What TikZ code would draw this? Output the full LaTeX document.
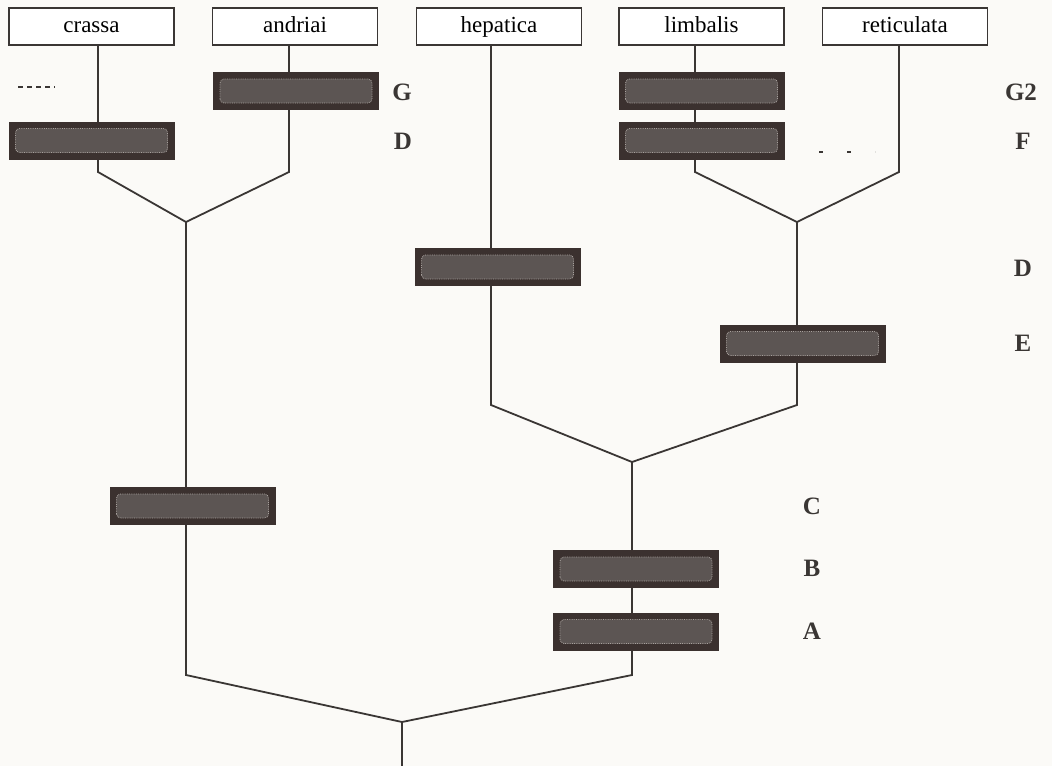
\documentclass[tikz,border=0pt]{standalone}
\usepackage{fontspec}
\setmainfont{Liberation Serif}
\usetikzlibrary{calc}
\definecolor{bgc}{HTML}{FBFAF7}
\definecolor{linec}{HTML}{3A3634}
\definecolor{bardark}{HTML}{3B312F}
\definecolor{barmid}{HTML}{5C5553}
\definecolor{barlight}{HTML}{A8A29E}
\begin{document}
\begin{tikzpicture}[x=1pt,y=-1pt,
  taxon/.style={draw=linec, line width=1.6pt, fill=white, rectangle, minimum width=165pt, minimum height=37pt, inner sep=0pt, text height=15pt, text depth=4pt, font=\fontsize{23}{25}\selectfont},
  bar/.style={rectangle, fill=bardark, minimum width=166pt, minimum height=38pt, inner sep=0pt,
    path picture={\fill[barmid, rounded corners=4pt] ($(path picture bounding box.south west)+(7pt,7pt)$) rectangle ($(path picture bounding box.north east)+(-7pt,-7pt)$);
      \draw[barlight, densely dotted, line width=0.8pt, rounded corners=4pt] ($(path picture bounding box.south west)+(7pt,7pt)$) rectangle ($(path picture bounding box.north east)+(-7pt,-7pt)$);}},
  lvl/.style={font=\bfseries\fontsize{25}{27}\selectfont, text=linec},
  link/.style={draw=linec, line width=1.8pt, line join=miter}]
\fill[bgc] (0,0) rectangle (1052,766);
\useasboundingbox (0,0) rectangle (1052,766);

% taxa
\node[taxon] (crassa) at (91.5,26.5) {crassa};
\node[taxon] (andriai) at (295,26.5) {andriai};
\node[taxon] (hepatica) at (499,26.5) {hepatica};
\node[taxon] (limbalis) at (701.5,26.5) {limbalis};
\node[taxon] (reticulata) at (905,26.5) {reticulata};

% junctions
\coordinate (b1) at (98,172);
\coordinate (b2) at (289,172);
\coordinate (j1) at (186,222);
\coordinate (b3) at (695,172);
\coordinate (b4) at (899,172);
\coordinate (j2) at (797,222);
\coordinate (b5) at (491,405);
\coordinate (b6) at (797,405);
\coordinate (j3) at (632,462);
\coordinate (b7) at (186,675);
\coordinate (b8) at (632,675);
\coordinate (j4) at (402,722);
\coordinate (root) at (402,766);

% connectors
\draw[link] (crassa.south -| b1) -- (b1) -- (j1);
\draw[link] (andriai.south -| b2) -- (b2) -- (j1);
\draw[link] (limbalis.south -| b3) -- (b3) -- (j2);
\draw[link] (reticulata.south -| b4) -- (b4) -- (j2);
\draw[link] (hepatica.south -| b5) -- (b5) -- (j3);
\draw[link] (j2) -- (b6) -- (j3);
\draw[link] (j1) -- (b7) -- (j4);
\draw[link] (j3) -- (b8) -- (j4);
\draw[link] (j4) -- (root);

% character bars
\node[bar] (barG) at (296,91) {};
\node[bar] (barD1) at (91.5,140.5) {};
\node[bar] (barG2) at (701.5,91) {};
\node[bar] (barF) at (701.5,140.5) {};
\node[bar] (barD2) at (497.5,267) {};
\node[bar] (barE) at (802.5,343.5) {};
\node[bar] (barC) at (192.5,506) {};
\node[bar] (barB) at (636,569) {};
\node[bar] (barA) at (636,631.5) {};

% faint marks
\draw[linec, line width=1.2pt, dash pattern=on 5pt off 4pt] (18,87) -- (55,87);
\draw[linec, line width=1.2pt, dash pattern=on 4pt off 24pt] (819,152) -- (875,152);

% level labels
\node[lvl] (lG) at (402,92) {G};
\node[lvl] (lD1) at (403,141) {D};
\node[lvl] (lG2) at (1021,92) {G2};
\node[lvl] (lF) at (1023,141) {F};
\node[lvl] (lD2) at (1023,268) {D};
\node[lvl] (lE) at (1023,343) {E};
\node[lvl] (lC) at (812,506) {C};
\node[lvl] (lB) at (812,568) {B};
\node[lvl] (lA) at (812,631) {A};
\end{tikzpicture}
\end{document}
